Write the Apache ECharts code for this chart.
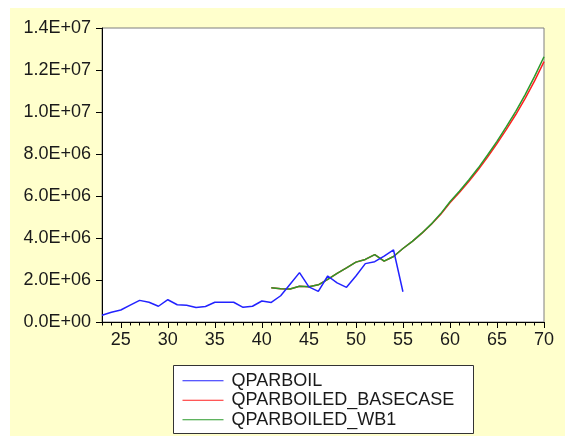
<!DOCTYPE html>
<html>
<head>
<meta charset="utf-8">
<script src="https://cdn.jsdelivr.net/npm/echarts@6/dist/echarts.min.js"></script>
<style>
  html, body { margin: 0; padding: 0; background: #ffffff; }
  #chart { position: absolute; left: 10px; top: 8px; width: 555px; height: 428px; background: #ffffcc; }
</style>
</head>
<body>
<div id="chart"></div>
<script>
// Observed parboiled rice quantity (years 23..55)
const yearsObserved = [23,24,25,26,27,28,29,30,31,32,33,34,35,36,37,38,39,40,41,42,43,44,45,46,47,48,49,50,51,52,53,54,55];
const qParboil = [0.32e6,0.46e6,0.57e6,0.80e6,1.03e6,0.94e6,0.75e6,1.06e6,0.82e6,0.80e6,0.69e6,0.74e6,0.94e6,0.94e6,0.94e6,0.70e6,0.75e6,1.00e6,0.93e6,1.25e6,1.80e6,2.35e6,1.67e6,1.46e6,2.19e6,1.86e6,1.65e6,2.19e6,2.78e6,2.87e6,3.14e6,3.43e6,1.44e6];

// Simulated paths (years 41..70)
const yearsSimulated = [41,42,43,44,45,46,47,48,49,50,51,52,53,54,55,56,57,58,59,60,61,62,63,64,65,66,67,68,69,70];
const qBasecase = [1.63e6,1.58e6,1.57e6,1.70e6,1.68e6,1.77e6,2.03e6,2.32e6,2.58e6,2.85e6,2.98e6,3.21e6,2.90e6,3.12e6,3.50e6,3.84e6,4.22e6,4.64e6,5.12e6,5.68e6,6.17e6,6.69e6,7.25e6,7.85e6,8.50e6,9.17e6,9.88e6,10.65e6,11.48e6,12.40e6];
const qWb1 = [1.63e6,1.58e6,1.57e6,1.70e6,1.68e6,1.77e6,2.03e6,2.32e6,2.58e6,2.85e6,2.98e6,3.21e6,2.90e6,3.12e6,3.50e6,3.84e6,4.23e6,4.66e6,5.15e6,5.73e6,6.23e6,6.76e6,7.33e6,7.95e6,8.60e6,9.30e6,10.03e6,10.83e6,11.70e6,12.63e6];

// Axis ticks
const xMajorTicks = [25,30,35,40,45,50,55,60,65,70];
const xMinorTicks = yearsObserved.concat([56,57,58,59,60,61,62,63,64,65,66,67,68,69,70]);

const seriesNames = ['QPARBOIL', 'QPARBOILED_BASECASE', 'QPARBOILED_WB1'];

function pairs(xs, ys) { return xs.map((x, i) => [x, ys[i]]); }

function sciLabel(v) {
  const s = Number(v).toExponential(1).toUpperCase();   // e.g. 1.4E+7
  const m = s.match(/^(-?[\d.]+)E([+-])(\d+)$/);
  return m[1] + 'E' + m[2] + (m[3].length < 2 ? '0' + m[3] : m[3]);
}

const font = 'Liberation Sans, Arial, sans-serif';
const chart = echarts.init(document.getElementById('chart'));

chart.setOption({
  animation: false,
  grid: {
    left: 92, top: 20, width: 442, height: 294,
    show: true, backgroundColor: '#ffffff', borderColor: '#7f7f7f', borderWidth: 1
  },
  xAxis: [
    {
      type: 'value', min: 23, max: 70,
      axisLine: { show: true, lineStyle: { color: '#000', width: 1 } },
      axisTick: { show: true, customValues: xMajorTicks, length: 6, lineStyle: { color: '#000' } },
      axisLabel: { customValues: xMajorTicks, color: '#1a1a1a', fontFamily: font, fontSize: 18, margin: 9 },
      splitLine: { show: false }
    },
    {
      type: 'value', min: 23, max: 70, position: 'bottom',
      axisLine: { show: false },
      axisTick: { show: true, customValues: xMinorTicks, length: 3.5, lineStyle: { color: '#000' } },
      axisLabel: { show: false },
      splitLine: { show: false }
    }
  ],
  yAxis: {
    type: 'value', min: 0, max: 1.4e7, interval: 2e6,
    axisLine: { show: true, lineStyle: { color: '#000', width: 1 } },
    axisTick: { show: true, length: 6, lineStyle: { color: '#000' } },
    axisLabel: { color: '#1a1a1a', fontFamily: font, fontSize: 18, margin: 11, formatter: sciLabel },
    splitLine: { show: false }
  },
  graphic: [{
    type: 'rect', left: 163, top: 357, z: 0,
    shape: { width: 300, height: 68 },
    style: { fill: '#ffffff', stroke: '#333333', lineWidth: 1 }
  }],
  legend: {
    orient: 'vertical', left: 172, top: 363, padding: 0, itemGap: 0,
    itemWidth: 41, itemHeight: 19.5, z: 5,
    data: seriesNames,
    textStyle: { color: '#1a1a1a', fontFamily: font, fontSize: 18, lineHeight: 19.5, padding: [0, 0, 0, 3] },
    itemStyle: { opacity: 0 },
    lineStyle: { width: 1 }
  },
  series: [
    {
      name: seriesNames[0], type: 'line', data: pairs(yearsObserved, qParboil),
      symbol: 'none', lineStyle: { color: '#2222ff', width: 1.5 }, itemStyle: { color: '#2222ff' }, z: 3
    },
    {
      name: seriesNames[1], type: 'line', data: pairs(yearsSimulated, qBasecase),
      symbol: 'none', lineStyle: { color: '#ff2020', width: 1.5 }, itemStyle: { color: '#ff2020' }, z: 2
    },
    {
      name: seriesNames[2], type: 'line', data: pairs(yearsSimulated, qWb1),
      symbol: 'none', lineStyle: { color: '#2a9a2a', width: 1.5 }, itemStyle: { color: '#2a9a2a' }, z: 2
    }
  ]
});
</script>
</body>
</html>
